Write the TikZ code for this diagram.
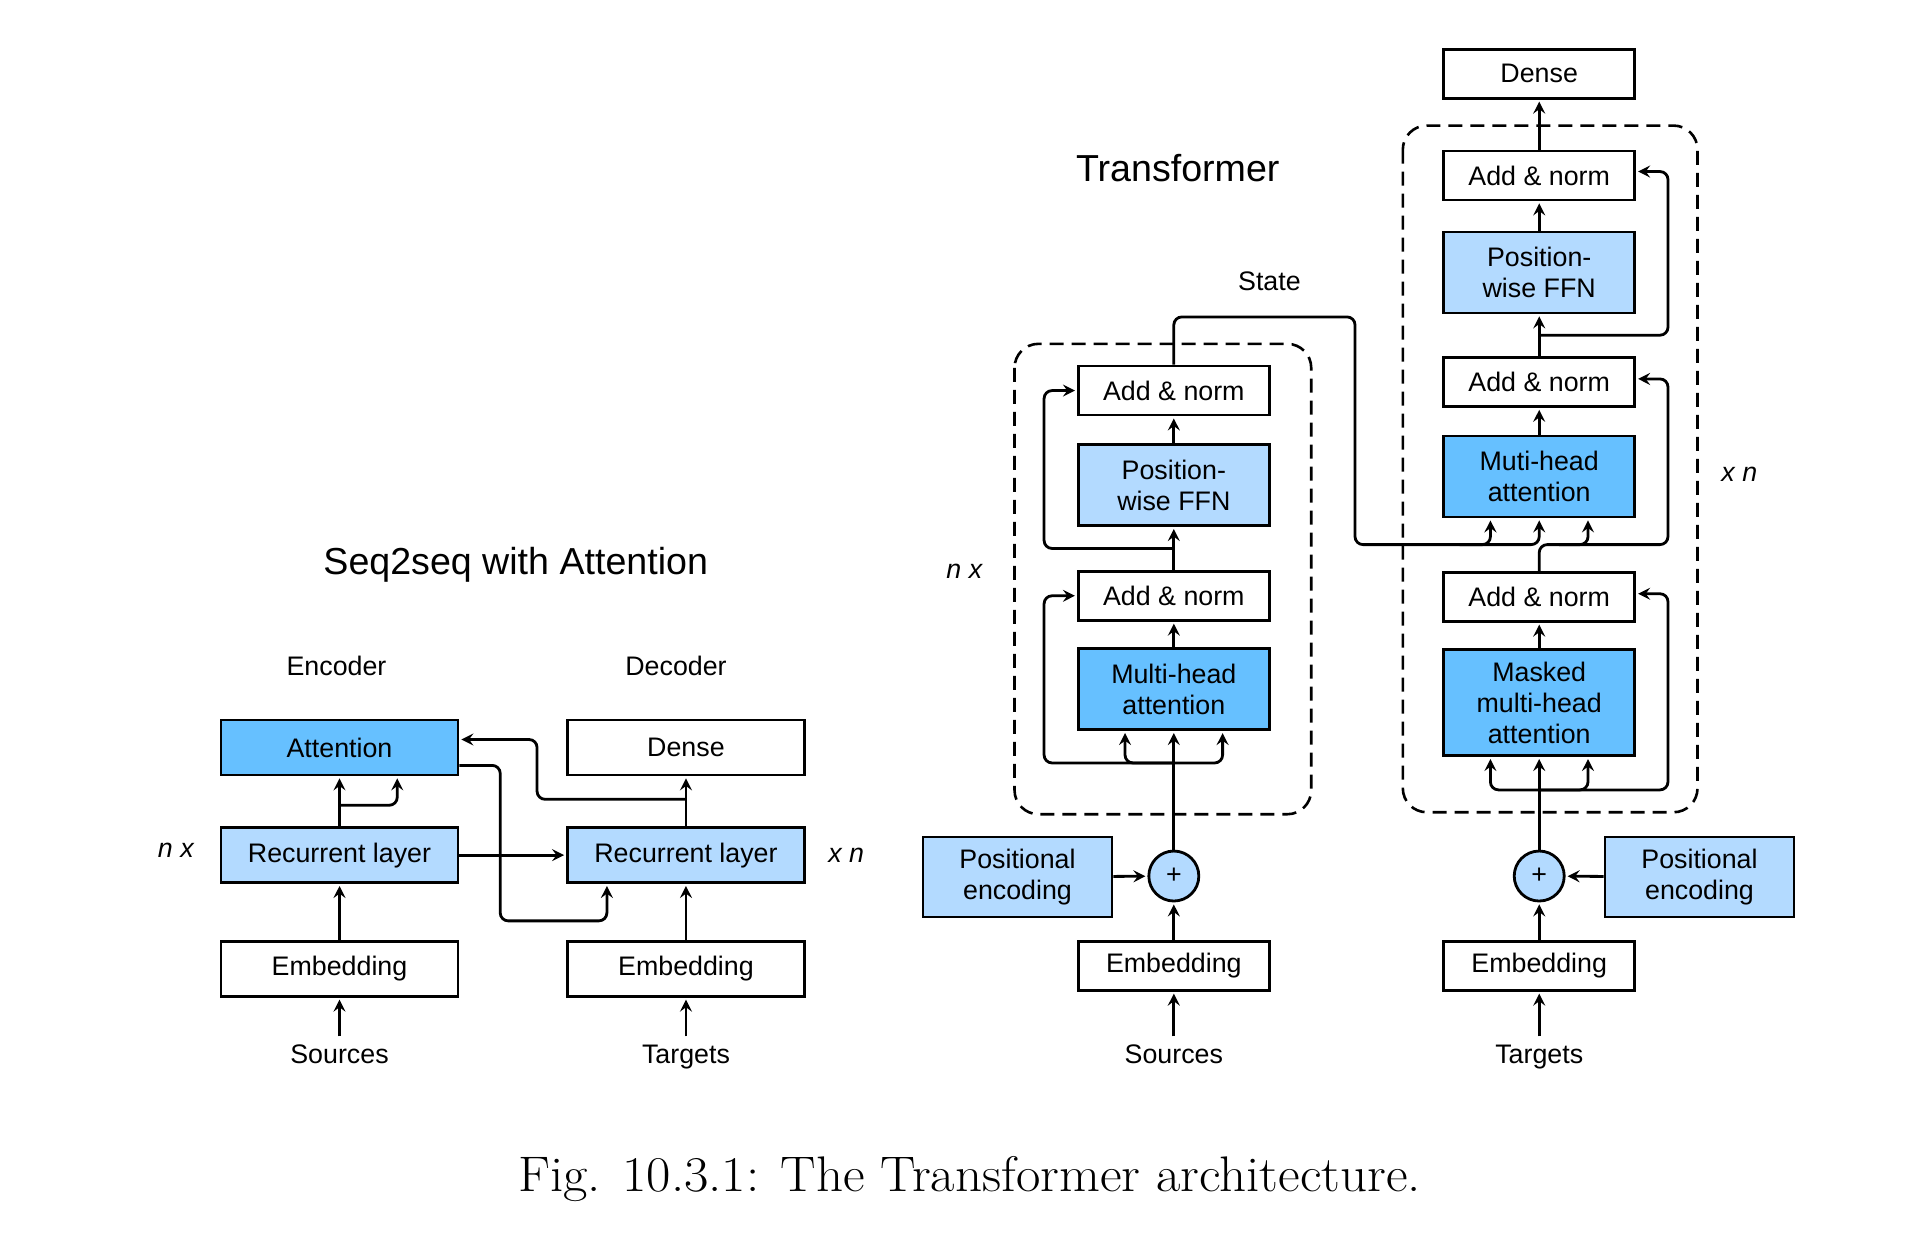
\documentclass[tikz,border=0pt]{standalone}
\usepackage{fontspec}
\newfontfamily\diagfont{Liberation Sans}
\usetikzlibrary{positioning,arrows.meta,calc}

\definecolor{lightblue}{HTML}{B3DAFF}
\definecolor{darkblue}{HTML}{66C0FF}

\begin{document}
\begin{tikzpicture}[x=0.4978pt, y=-0.4983pt,
    txt/.style = {font=\diagfont\fontsize{13.4pt}{15.6pt}\selectfont},
    lbl/.style = {txt, text height=10pt, text depth=3pt},
    box/.style = {txt, draw, line width=1.4pt, inner sep=0pt, align=center, minimum width=95.5pt, minimum height=24.5pt},
    light/.style = {box, fill=lightblue},
    dark/.style = {box, fill=darkblue},
    wide/.style = {minimum width=118.5pt, minimum height=27.5pt},
    tall/.style = {minimum height=40.5pt},
    plus/.style = {txt, draw, circle, line width=1.4pt, fill=lightblue, inner sep=0pt, minimum size=25pt},
    title/.style = {font=\diagfont\fontsize{18.8pt}{22pt}\selectfont},
    arr/.style = {line width=1.4pt, -{Stealth[length=6pt, width=6pt, inset=2.2pt]}, shorten >=1pt, rounded corners=4pt},
    block/.style = {line width=1.3pt, dash pattern=on 7pt off 4pt, rounded corners=12pt}]
    \useasboundingbox (0pt,0pt) rectangle (958pt,-621pt);

    % seq2seq with attention
    \node[title] (s2s) at (518,567) {Seq2seq with Attention};
    \node[txt] (enc) at (338,668) {Encoder};
    \node[txt] (dec) at (679,668) {Decoder};
    \node[dark, wide] (attn) at (341,750) {Attention};
    \node[box, wide] (denseL) at (689,750) {Dense};
    \node[light, wide] (recL) at (341,858) {Recurrent layer};
    \node[light, wide] (recR) at (689,858) {Recurrent layer};
    \node[box, wide] (embL) at (341,972) {Embedding};
    \node[box, wide] (embR) at (689,972) {Embedding};
    \node[lbl] (srcL) at (341,1060) {Sources};
    \node[lbl] (tgtL) at (689,1060) {Targets};
    \node[txt] (nxL) at (177,853) {\textit{n x}};
    \node[txt] (xnL) at (850,858) {\textit{x n}};

    \draw[arr] (srcL) -- (embL);
    \draw[arr] (tgtL) -- (embR);
    \draw[arr] (embL) -- (recL);
    \draw[arr] (embR) -- (recR);
    \draw[arr] (recL) -- (attn);
    \draw[arr] (recL) -- (recR);
    \draw[arr] (recR) -- (denseL);
    \coordinate (lSplit) at ($(recL.north)+(0,-21)$);
    \draw[arr] (lSplit) -| ($(attn.south)+(58,0)$);
    \draw[arr] ($(attn.east)+(0,18)$) -| ($(recL.south east)+(41,37)$) -| ($(recR.south west)+(41,0)$);
    \coordinate (rSplit) at ($(recR.north)+(0,-27)$);
    \draw[arr] (rSplit) -| ($(attn.east)+(78,-8)$) -- ($(attn.east)+(0,-8)$);

    % transformer
    \node[title] (trf) at (1183,169) {Transformer};
    \node[txt] (state) at (1275,282) {State};

    % encoder
    \node[box] (embE) at (1179,969) {Embedding};
    \node[plus] (plusE) at (1179,879) {+};
    \node[light, minimum width=94.5pt, minimum height=40pt] (posE) at (1022,880) {Positional\\encoding};
    \node[dark, tall] (mhaE) at (1179,691.5) {Multi-head\\attention};
    \node[box] (anE1) [above=12.8pt of mhaE] {Add \& norm};
    \node[light, tall] (ffnE) [above=21.4pt of anE1] {Position-\\wise FFN};
    \node[box] (anE2) [above=13.4pt of ffnE] {Add \& norm};
    \node[lbl] (srcT) at (1179,1060) {Sources};
    \node[txt] (nxT) at (969,573) {\textit{n x}};
    \draw[block] (1019,345) rectangle (1317,817);

    \draw[arr] (srcT) -- (embE);
    \draw[arr] (embE) -- (plusE);
    \draw[arr] (posE) -- (plusE);
    \draw[arr] (plusE) -- (mhaE);
    \draw[arr] (mhaE) -- (anE1);
    \draw[arr] (anE1) -- (ffnE);
    \draw[arr] (ffnE) -- (anE2);
    \coordinate (eSplit) at ($(mhaE.south)+(0,32)$);
    \draw[arr] (eSplit) -| ($(mhaE.south)+(-49,0)$);
    \draw[arr] (eSplit) -| ($(mhaE.south)+(49,0)$);
    \draw[arr] (eSplit) -| ($(anE1.west)+(-33,0)$) -- (anE1.west);
    \coordinate (eMid) at ($(anE1.north)!0.5!(ffnE.south)$);
    \draw[arr] (eMid) -| ($(anE2.west)+(-33,0)$) -- (anE2.west);

    % decoder
    \node[box] (embD) at (1546,969) {Embedding};
    \node[plus] (plusD) at (1546,879) {+};
    \node[light, minimum width=94.5pt, minimum height=40pt] (posD) at (1707,880) {Positional\\encoding};
    \node[dark, minimum height=53pt] (maskD) at (1546,705) {Masked\\multi-head\\attention};
    \node[box] (anD1) [above=12.8pt of maskD] {Add \& norm};
    \node[dark, tall] (mhaD) [above=26.2pt of anD1] {Muti-head\\attention};
    \node[box] (anD2) [above=13.4pt of mhaD] {Add \& norm};
    \node[light, tall] (ffnD) [above=20.8pt of anD2] {Position-\\wise FFN};
    \node[box] (anD3) [above=14.6pt of ffnD] {Add \& norm};
    \node[box] (denseT) [above=25pt of anD3] {Dense};
    \node[lbl] (tgtT) at (1546,1060) {Targets};
    \node[txt] (xnT) at (1747,476) {\textit{x n}};
    \draw[block] (1409,126) rectangle (1705,815);

    \draw[arr] (tgtT) -- (embD);
    \draw[arr] (embD) -- (plusD);
    \draw[arr] (posD) -- (plusD);
    \draw[arr] (plusD) -- (maskD);
    \draw[arr] (maskD) -- (anD1);
    \draw[arr] (mhaD) -- (anD2);
    \draw[arr] (anD2) -- (ffnD);
    \draw[arr] (ffnD) -- (anD3);
    \draw[arr] (anD3) -- (denseT);
    \coordinate (mSplit) at ($(maskD.south)+(0,33)$);
    \draw[arr] (mSplit) -| ($(maskD.south)+(-49,0)$);
    \draw[arr] (mSplit) -| ($(maskD.south)+(49,0)$);
    \draw[arr] (mSplit) -| ($(anD1.east)+(32,-3)$) -- ($(anD1.east)+(0,-3)$);
    \coordinate (dSplit) at ($(anD1.north)!0.5!(mhaD.south)$);
    \draw[arr] (anD1.north) -- (dSplit) -| ($(anD2.east)+(32,-3)$) -- ($(anD2.east)+(0,-3)$);
    \draw[arr] ($(dSplit)+(20,0)$) -| ($(mhaD.south)+(49,0)$);
    \coordinate (dMid) at ($(anD2.north)!0.5!(ffnD.south)$);
    \draw[arr] (dMid) -| ($(anD3.east)+(32,-4)$) -- ($(anD3.east)+(0,-4)$);

    % state from encoder to decoder
    \draw[arr] (anE2.north) |- (1361,318) |- (dSplit) -- (mhaD.south);
    \draw[arr] ($(dSplit)+(-80,0)$) -| ($(mhaD.south)+(-49,0)$);

    \node (cap) at (974,1183) {\scalebox{1.06}[1]{\fontsize{25pt}{29pt}\selectfont Fig. 10.3.1: The Transformer architecture.}};
\end{tikzpicture}
\end{document}
